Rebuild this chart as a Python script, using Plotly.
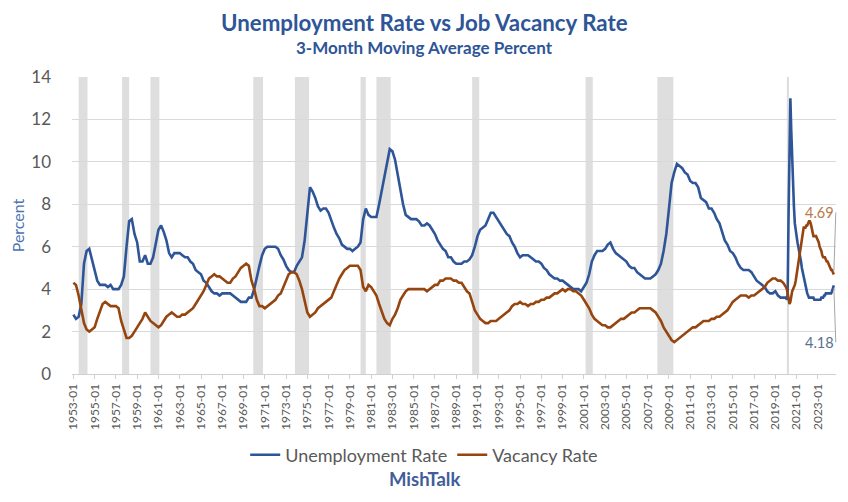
import pandas as pd
import plotly.graph_objects as go

# ---------------- data ----------------
# Quarterly readings 1953-01 .. 2019-10 (3-month moving averages, percent)
unemp_q = [
    2.8, 2.6, 2.7, 3.3,   # 1953
    5.2, 5.8, 5.9, 5.4,   # 1954
    4.8, 4.4, 4.2, 4.2,   # 1955
    4.2, 4.1, 4.2, 4.0,   # 1956
    4.0, 4.0, 4.2, 4.6,   # 1957
    6.0, 7.2, 7.3, 6.6,   # 1958
    6.2, 5.3, 5.3, 5.6,   # 1959
    5.2, 5.2, 5.5, 6.2,   # 1960
    6.8, 7.0, 6.7, 6.3,   # 1961
    5.7, 5.5, 5.7, 5.7,   # 1962
    5.7, 5.6, 5.5, 5.5,   # 1963
    5.3, 5.2, 4.9, 4.8,   # 1964
    4.7, 4.4, 4.3, 4.1,   # 1965
    3.9, 3.8, 3.8, 3.7,   # 1966
    3.8, 3.8, 3.8, 3.8,   # 1967
    3.7, 3.6, 3.5, 3.4,   # 1968
    3.4, 3.4, 3.6, 3.6,   # 1969
    4.0, 4.6, 5.1, 5.6,   # 1970
    5.9, 6.0, 6.0, 6.0,   # 1971
    6.0, 5.9, 5.6, 5.4,   # 1972
    5.1, 4.9, 4.8, 4.8,   # 1973
    5.1, 5.3, 5.5, 6.3,   # 1974
    7.6, 8.8, 8.6, 8.3,   # 1975
    7.9, 7.7, 7.8, 7.8,   # 1976
    7.6, 7.2, 6.9, 6.6,   # 1977
    6.4, 6.1, 6.0, 5.9,   # 1978
    5.9, 5.8, 5.9, 6.0,   # 1979
    6.2, 7.3, 7.8, 7.5,   # 1980
    7.4, 7.4, 7.4, 8.0,   # 1981
    8.7, 9.4, 9.9, 10.6,  # 1982
    10.5, 10.1, 9.4, 8.6, # 1983
    8.0, 7.5, 7.4, 7.3,   # 1984
    7.3, 7.3, 7.2, 7.0,   # 1985
    7.0, 7.1, 7.0, 6.8,   # 1986
    6.6, 6.3, 6.1, 5.9,   # 1987
    5.8, 5.5, 5.5, 5.3,   # 1988
    5.2, 5.2, 5.2, 5.3,   # 1989
    5.3, 5.4, 5.6, 6.0,   # 1990
    6.5, 6.8, 6.9, 7.0,   # 1991
    7.3, 7.6, 7.6, 7.4,   # 1992
    7.2, 7.0, 6.8, 6.6,   # 1993
    6.5, 6.2, 6.0, 5.7,   # 1994
    5.5, 5.6, 5.6, 5.6,   # 1995
    5.5, 5.4, 5.3, 5.3,   # 1996
    5.2, 5.0, 4.9, 4.7,   # 1997
    4.6, 4.5, 4.5, 4.4,   # 1998
    4.4, 4.3, 4.2, 4.1,   # 1999
    4.0, 4.0, 4.0, 3.9,   # 2000
    4.1, 4.3, 4.7, 5.3,   # 2001
    5.6, 5.8, 5.8, 5.8,   # 2002
    5.9, 6.1, 6.2, 5.9,   # 2003
    5.7, 5.6, 5.5, 5.4,   # 2004
    5.3, 5.1, 5.0, 5.0,   # 2005
    4.8, 4.7, 4.6, 4.5,   # 2006
    4.5, 4.5, 4.6, 4.7,   # 2007
    4.9, 5.2, 5.8, 6.6,   # 2008
    7.8, 9.0, 9.5, 9.9,   # 2009
    9.8, 9.7, 9.5, 9.4,   # 2010
    9.1, 9.0, 9.0, 8.8,   # 2011
    8.3, 8.2, 8.1, 7.8,   # 2012
    7.8, 7.6, 7.3, 7.1,   # 2013
    6.7, 6.3, 6.1, 5.8,   # 2014
    5.7, 5.5, 5.2, 5.0,   # 2015
    4.9, 4.9, 4.9, 4.8,   # 2016
    4.6, 4.4, 4.3, 4.2,   # 2017
    4.1, 3.9, 3.8, 3.8,   # 2018
    3.9, 3.7, 3.6, 3.6,   # 2019
]
vacancy_q = [
    4.3, 4.2, 3.7, 3.0,   # 1953
    2.4, 2.1, 2.0, 2.1,   # 1954
    2.2, 2.6, 3.0, 3.3,   # 1955
    3.4, 3.3, 3.2, 3.2,   # 1956
    3.2, 3.1, 2.5, 2.1,   # 1957
    1.7, 1.7, 1.8, 2.0,   # 1958
    2.2, 2.4, 2.6, 2.9,   # 1959
    2.7, 2.5, 2.4, 2.3,   # 1960
    2.2, 2.3, 2.5, 2.7,   # 1961
    2.8, 2.9, 2.8, 2.7,   # 1962
    2.7, 2.8, 2.8, 2.9,   # 1963
    3.0, 3.1, 3.3, 3.5,   # 1964
    3.7, 3.9, 4.2, 4.5,   # 1965
    4.6, 4.7, 4.6, 4.6,   # 1966
    4.5, 4.4, 4.3, 4.3,   # 1967
    4.5, 4.6, 4.8, 5.0,   # 1968
    5.1, 5.2, 5.1, 4.4,   # 1969
    4.0, 3.5, 3.2, 3.2,   # 1970
    3.1, 3.2, 3.3, 3.4,   # 1971
    3.5, 3.7, 3.8, 4.1,   # 1972
    4.4, 4.7, 4.8, 4.8,   # 1973
    4.7, 4.4, 4.0, 3.4,   # 1974
    2.9, 2.7, 2.8, 2.9,   # 1975
    3.1, 3.2, 3.3, 3.4,   # 1976
    3.5, 3.6, 3.9, 4.2,   # 1977
    4.5, 4.7, 4.9, 5.0,   # 1978
    5.1, 5.1, 5.1, 5.1,   # 1979
    4.9, 4.1, 3.9, 4.2,   # 1980
    4.1, 3.9, 3.7, 3.3,   # 1981
    2.9, 2.6, 2.4, 2.3,   # 1982
    2.6, 2.8, 3.1, 3.5,   # 1983
    3.7, 3.9, 4.0, 4.0,   # 1984
    4.0, 4.0, 4.0, 4.0,   # 1985
    4.0, 3.9, 4.0, 4.1,   # 1986
    4.2, 4.2, 4.4, 4.4,   # 1987
    4.5, 4.5, 4.5, 4.4,   # 1988
    4.4, 4.3, 4.3, 4.1,   # 1989
    3.9, 3.8, 3.4, 3.0,   # 1990
    2.8, 2.6, 2.5, 2.4,   # 1991
    2.4, 2.5, 2.5, 2.5,   # 1992
    2.6, 2.7, 2.8, 2.9,   # 1993
    3.0, 3.2, 3.3, 3.3,   # 1994
    3.4, 3.3, 3.3, 3.2,   # 1995
    3.3, 3.3, 3.4, 3.4,   # 1996
    3.5, 3.5, 3.6, 3.6,   # 1997
    3.7, 3.8, 3.8, 3.9,   # 1998
    4.0, 3.9, 4.0, 4.0,   # 1999
    3.9, 3.9, 3.8, 3.7,   # 2000
    3.5, 3.3, 3.1, 2.8,   # 2001
    2.6, 2.5, 2.4, 2.3,   # 2002
    2.3, 2.2, 2.2, 2.3,   # 2003
    2.4, 2.5, 2.6, 2.6,   # 2004
    2.7, 2.8, 2.9, 2.9,   # 2005
    3.0, 3.1, 3.1, 3.1,   # 2006
    3.1, 3.1, 3.0, 2.9,   # 2007
    2.7, 2.5, 2.2, 2.0,   # 2008
    1.8, 1.6, 1.5, 1.6,   # 2009
    1.7, 1.8, 1.9, 2.0,   # 2010
    2.1, 2.2, 2.2, 2.3,   # 2011
    2.4, 2.5, 2.5, 2.5,   # 2012
    2.6, 2.6, 2.7, 2.7,   # 2013
    2.8, 2.9, 3.0, 3.2,   # 2014
    3.4, 3.5, 3.6, 3.7,   # 2015
    3.7, 3.7, 3.6, 3.7,   # 2016
    3.7, 3.8, 3.9, 4.0,   # 2017
    4.1, 4.3, 4.4, 4.5,   # 2018
    4.5, 4.4, 4.4, 4.3,   # 2019
]
# Monthly readings 2020-01 .. 2024-07
unemp_m = [
    3.6, 3.5, 3.8, 7.6, 10.8, 13.0, 11.5, 9.9, 8.8, 7.9, 7.1, 6.7,   # 2020
    6.5, 6.2, 6.0, 5.8, 5.6, 5.3, 5.0, 4.8, 4.6, 4.3, 4.1, 3.9,       # 2021
    3.8, 3.7, 3.6, 3.6, 3.6, 3.6, 3.6, 3.6, 3.5, 3.5, 3.5, 3.5,       # 2022
    3.5, 3.5, 3.5, 3.5, 3.6, 3.6, 3.6, 3.7, 3.7, 3.8, 3.8, 3.8,       # 2023
    3.8, 3.8, 3.8, 3.8, 3.9, 4.0, 4.18,                               # 2024
]
vacancy_m = [
    4.1, 4.0, 3.8, 3.5, 3.3, 3.4, 3.7, 3.9, 4.0, 4.1, 4.2, 4.4,       # 2020
    4.7, 5.0, 5.3, 5.6, 5.9, 6.2, 6.5, 6.7, 6.9, 6.9, 6.9, 7.0,       # 2021
    7.0, 7.1, 7.2, 7.2, 7.1, 6.9, 6.7, 6.5, 6.5, 6.5, 6.5, 6.4,       # 2022
    6.3, 6.2, 6.0, 5.9, 5.8, 5.6, 5.5, 5.5, 5.5, 5.4, 5.3, 5.3,       # 2023
    5.2, 5.1, 5.0, 4.9, 4.9, 4.8, 4.69,                               # 2024
]
quarter_dates = list(pd.date_range("1953-01-01", "2019-10-01", freq="QS"))
month_dates = list(pd.date_range("2020-01-01", "2024-07-01", freq="MS"))
dates = quarter_dates + month_dates
unemployment = unemp_q + unemp_m
vacancy = vacancy_q + vacancy_m

recession_start = ["1953-07-01", "1957-08-01", "1960-04-01", "1969-12-01", "1973-11-01",
                   "1980-01-01", "1981-07-01", "1990-07-01", "2001-03-01", "2007-12-01",
                   "2020-02-01"]
recession_end = ["1954-05-01", "1958-04-01", "1961-02-01", "1970-11-01", "1975-03-01",
                 "1980-07-01", "1982-11-01", "1991-03-01", "2001-11-01", "2009-06-01",
                 "2020-04-15"]

tick_years = list(range(1953, 2024, 2))
tick_vals = [f"{y}-01-01" for y in tick_years]
tick_text = [f"{y}-01" for y in tick_years]
y_ticks = [0, 2, 4, 6, 8, 10, 12, 14]

# ---------------- figure ----------------
BLUE = "#2E5597"
BROWN = "#96450F"
GRAY_TXT = "#595959"
FONT = "Lato"

fig = go.Figure()
fig.add_trace(go.Scatter(x=dates, y=unemployment, mode="lines", name="Unemployment Rate",
                         line=dict(color=BLUE, width=2.6)))
fig.add_trace(go.Scatter(x=dates, y=vacancy, mode="lines", name="Vacancy Rate",
                         line=dict(color=BROWN, width=2.6)))

for s, e in zip(recession_start, recession_end):
    fig.add_vrect(x0=s, x1=e, fillcolor="#DEDEDE", opacity=1, line_width=0, layer="below")

# the page body adds an 8px offset, so the figure is sized to the visible area
fig.update_layout(
    width=840, height=494,
    paper_bgcolor="white", plot_bgcolor="white",
    margin=dict(l=64, r=12, t=69, b=128, autoexpand=False),
    font=dict(family=FONT, color=GRAY_TXT),
    showlegend=True,
    legend=dict(orientation="h", x=0.461, xanchor="center", y=-0.273, yanchor="middle",
                font=dict(size=18, color=GRAY_TXT), itemwidth=30, traceorder="normal"),
    xaxis=dict(type="date", range=["1952-11-15", "2024-09-15"], automargin=False,
               tickmode="array", tickvals=tick_vals, ticktext=tick_text,
               tickangle=-90, tickfont=dict(size=12, color=GRAY_TXT),
               showgrid=False, zeroline=False,
               showline=True, linecolor="#D0D0D0", linewidth=1,
               ticks="outside", ticklen=4, tickcolor="#D0D0D0"),
    yaxis=dict(range=[0, 14], tickvals=y_ticks, tickfont=dict(size=17, color=GRAY_TXT),
               automargin=False,
               showgrid=True, gridcolor="#D9D9D9", gridwidth=1, zeroline=False,
               showline=False, ticklabelstandoff=20,
               title=dict(text="Percent", font=dict(size=16, color="#4A72B0"), standoff=6)),
    annotations=[
        dict(text="<b>Unemployment Rate vs Job Vacancy Rate</b>", xref="paper", yref="paper",
             x=0.461, y=1.184, xanchor="center", yanchor="middle", showarrow=False,
             font=dict(size=22.3, color=BLUE, family=FONT)),
        dict(text="<b>3-Month Moving Average Percent</b>", xref="paper", yref="paper",
             x=0.461, y=1.101, xanchor="center", yanchor="middle", showarrow=False,
             font=dict(size=17, color=BLUE, family=FONT)),
        dict(text="<b>MishTalk</b>", xref="paper", yref="paper",
             x=0.461, y=-0.352, xanchor="center", yanchor="middle", showarrow=False,
             font=dict(size=18.5, color="#3F5E9A", family=FONT)),
        dict(text=f"{vacancy[-1]:.2f}", x=dates[-1], y=vacancy[-1], xref="x", yref="y",
             showarrow=True, arrowhead=0, arrowwidth=1, arrowcolor="#A6A6A6",
             ax=2, ay=-62, xanchor="right", standoff=3,
             font=dict(size=14.5, color="#B8784A", family=FONT)),
        dict(text=f"{unemployment[-1]:.2f}", x=dates[-1], y=unemployment[-1], xref="x", yref="y",
             showarrow=True, arrowhead=0, arrowwidth=1, arrowcolor="#A6A6A6",
             ax=2, ay=57, xanchor="right", standoff=3,
             font=dict(size=14.5, color="#5A7090", family=FONT)),
    ],
)

fig.write_html("out.html")
